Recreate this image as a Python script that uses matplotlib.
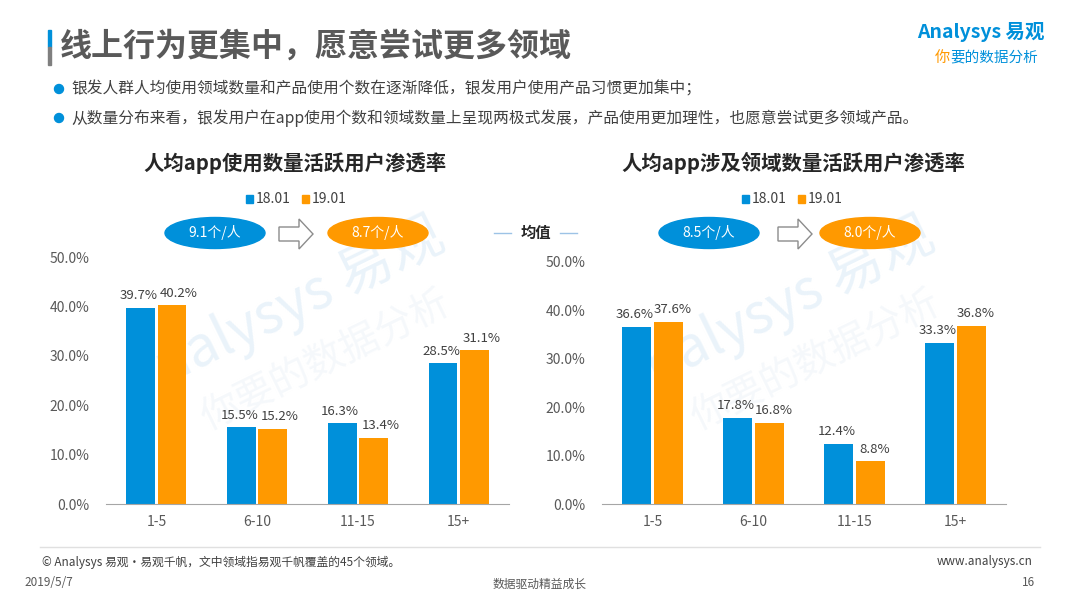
import matplotlib.pyplot as plt
import numpy as np
from matplotlib.patches import Ellipse, Polygon, Rectangle

plt.rcParams['font.family'] = ['Noto Sans CJK SC', 'DejaVu Sans']

# DATA
categories = ['1-5', '6-10', '11-15', '15+']
series_names = ['18.01', '19.01']
app_count_1801 = [39.7, 15.5, 16.3, 28.5]
app_count_1901 = [40.2, 15.2, 13.4, 31.1]
domain_count_1801 = [36.6, 17.8, 12.4, 33.3]
domain_count_1901 = [37.6, 16.8, 8.8, 36.8]
avg_app = ['9.1个/人', '8.7个/人']
avg_domain = ['8.5个/人', '8.0个/人']
y_ticks = [0, 10, 20, 30, 40, 50]

BLUE = '#0090DA'
ORANGE = '#FF9900'
DARK = '#404040'
GREY = '#595959'

W, H = 1080, 607
fig = plt.figure(figsize=(W / 100, H / 100), dpi=100)


def fx(x):
    return x / W


def fy(y):
    return 1 - y / H


def box(x0, y0, x1, y1):
    return [fx(x0), fy(y1), (x1 - x0) / W, (y1 - y0) / H]


# watermarks (behind everything)
for cx, cy in [(300, 330), (790, 330)]:
    fig.text(fx(cx), fy(cy - 28), 'nalysys 易观', fontsize=40, color='#eaf3fa',
             rotation=26, ha='center', va='center', zorder=-5)
    fig.text(fx(cx + 25), fy(cy + 30), '你要的数据分析', fontsize=28, color='#f5f8fb',
             rotation=26, ha='center', va='center', zorder=-5)

# header
fig.patches.append(Rectangle((fx(48), fy(47)), 3 / W, 17 / H, color=BLUE, transform=fig.transFigure))
fig.patches.append(Rectangle((fx(48), fy(65)), 3 / W, 18 / H, color='#7f7f7f', transform=fig.transFigure))
fig.text(fx(60), fy(47), '线上行为更集中，愿意尝试更多领域', fontsize=23, fontweight='bold',
         color=GREY, va='center', ha='left')

bullets = ['银发人群人均使用领域数量和产品使用个数在逐渐降低，银发用户使用产品习惯更加集中；',
           '从数量分布来看，银发用户在app使用个数和领域数量上呈现两极式发展，产品使用更加理性，也愿意尝试更多领域产品。']
for i, b in enumerate(bullets):
    yy = 89 + i * 29
    fig.patches.append(Ellipse((fx(59), fy(yy)), 9 / W, 9 / H, color=BLUE, transform=fig.transFigure))
    fig.text(fx(71), fy(yy), b, fontsize=11.3, color=DARK, va='center', ha='left')

# logo
fig.text(fx(1045), fy(32), 'Analysys 易观', fontsize=14, color=BLUE, ha='right', va='center',
         fontweight='bold')
fig.text(fx(935), fy(57), '你', fontsize=11, color=ORANGE, ha='left', va='center', style='italic')
fig.text(fx(950), fy(57), '要的数据分析', fontsize=10.5, color=BLUE, ha='left', va='center',
         style='italic')


def draw_chart(ax_box, d1, d2, title, title_x, legend_x, avgs, ell_x, arrow_x, shift):
    ax = fig.add_axes(ax_box)
    x = np.arange(len(categories))
    w = 0.285
    b1 = ax.bar(x - 0.155, d1, w, color=BLUE, zorder=2)
    b2 = ax.bar(x + 0.155, d2, w, color=ORANGE, zorder=2)
    for bars, vals, dx in [(b1, d1, -1.5), (b2, d2, shift)]:
        for r, v in zip(bars, vals):
            ax.annotate(f'{v:.1f}%', (r.get_x() + r.get_width() / 2, v), xytext=(dx, 4),
                        textcoords='offset points', ha='center', va='bottom',
                        fontsize=9.5, color=DARK)
    ax.set_xlim(-0.5, len(categories) - 0.5)
    ax.set_ylim(0, 50)
    ax.set_yticks(y_ticks)
    ax.set_yticklabels([f'{t:.1f}%' for t in y_ticks])
    ax.set_xticks(x)
    ax.set_xticklabels(categories)
    ax.tick_params(length=0, labelsize=10, labelcolor=GREY)
    ax.tick_params(axis='y', pad=12)
    ax.tick_params(axis='x', pad=8)
    for s in ['top', 'right', 'left']:
        ax.spines[s].set_visible(False)
    ax.spines['bottom'].set_color('#a6a6a6')
    ax.patch.set_alpha(0)

    fig.text(fx(title_x), fy(163), title, fontsize=14.7, fontweight='bold', color='#262626',
             ha='center', va='center')
    # legend
    for k, (name, col) in enumerate(zip(series_names, [BLUE, ORANGE])):
        lx = legend_x + k * 56
        fig.patches.append(Rectangle((fx(lx - 3), fy(203)), 7 / W, 8 / H, color=col,
                                     transform=fig.transFigure))
        fig.text(fx(lx + 7), fy(199), name, fontsize=10, color=DARK, ha='left', va='center')
    # averages
    for k, (txt, col) in enumerate(zip(avgs, [BLUE, ORANGE])):
        fig.patches.append(Ellipse((fx(ell_x[k]), fy(233)), 100 / W, 31 / H, color=col,
                                   transform=fig.transFigure))
        fig.text(fx(ell_x[k]), fy(233), txt, fontsize=10, color='white', ha='center', va='center')
    a0 = arrow_x
    pts = [(a0, 227), (a0 + 20, 227), (a0 + 20, 219), (a0 + 34, 234), (a0 + 20, 249),
           (a0 + 20, 241), (a0, 241)]
    fig.patches.append(Polygon([(fx(px), fy(py)) for px, py in pts], closed=True, facecolor='white',
                               edgecolor='#8c8c8c', lw=1, transform=fig.transFigure))
    return ax


draw_chart(box(106, 257, 509, 504), app_count_1801, app_count_1901,
           '人均app使用数量活跃用户渗透率', 295, 249, avg_app, [215, 378], 279, 5)
draw_chart(box(602, 262, 1006, 504), domain_count_1801, domain_count_1901,
           '人均app涉及领域数量活跃用户渗透率', 793, 745, avg_domain, [709, 870], 778, 3)

# middle label
fig.text(fx(536), fy(233), '均值', fontsize=11, fontweight='bold', color='#262626',
         ha='center', va='center')
for x0, x1 in [(494, 511), (560, 577)]:
    fig.add_artist(plt.Line2D([fx(x0), fx(x1)], [fy(233), fy(233)], color='#9dc3e6', lw=1))

# footer
fig.add_artist(plt.Line2D([fx(40), fx(1040)], [fy(547), fy(547)], color='#e0e0e0', lw=1))
fig.text(fx(42), fy(562), '© Analysys 易观·易观千帆，文中领域指易观千帆覆盖的45个领域。', fontsize=8.5,
         color=DARK, ha='left', va='center')
fig.text(fx(1033), fy(562), 'www.analysys.cn', fontsize=8.5, color=DARK, ha='right', va='center')
fig.text(fx(24), fy(583), '2019/5/7', fontsize=8.5, color=GREY, ha='left', va='center')
fig.text(fx(540), fy(584), '数据驱动精益成长', fontsize=8.5, color=GREY, ha='center', va='center')
fig.text(fx(1035), fy(583), '16', fontsize=8.5, color=GREY, ha='right', va='center')

fig.savefig('out.png', dpi=100)
